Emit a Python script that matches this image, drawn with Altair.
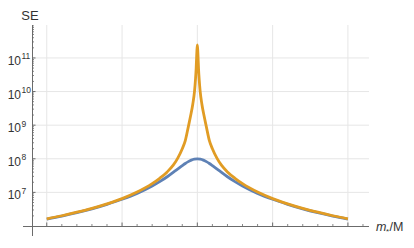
import altair as alt
import pandas as pd

W, H = 337, 201

# ---- data ----
orange_m = [0.06240, 0.06241, 0.06242, 0.06243, 0.06244, 0.06245, 0.06246, 0.06247,
            0.062475, 0.06248, 0.062484, 0.062487, 0.06249, 0.062492, 0.062494,
            0.0624955, 0.062497, 0.0624981, 0.0624988, 0.0624992, 0.0624995, 0.0624997,
            0.0625,
            0.0625003, 0.0625005, 0.0625008, 0.0625012, 0.0625019, 0.062503, 0.0625045,
            0.062506, 0.062508, 0.06251, 0.062513, 0.062516, 0.06252, 0.062525,
            0.06253, 0.06254, 0.06255, 0.06256, 0.06257, 0.06258, 0.06259, 0.06260]
orange_se = [1.641e6, 2.018e6, 2.570e6, 3.350e6, 4.571e6, 6.531e6, 1.023e7, 1.820e7,
             2.630e7, 4.074e7, 6.457e7, 1.047e8, 1.995e8, 3.467e8, 8.913e8,
             1.862e9, 4.266e9, 1.0e10, 2.399e10, 4.786e10, 1.0e11, 1.585e11,
             2.455e11,
             1.585e11, 1.0e11, 4.786e10, 2.399e10, 1.0e10, 4.266e9, 1.862e9,
             8.913e8, 3.467e8, 1.995e8, 1.047e8, 6.457e7, 4.074e7, 2.630e7,
             1.820e7, 1.023e7, 6.531e6, 4.571e6, 3.350e6, 2.570e6, 2.018e6, 1.641e6]

blue_m = [0.06240, 0.06241, 0.06242, 0.06243, 0.06244, 0.06245, 0.06246, 0.06247,
          0.062475, 0.06248, 0.062485, 0.062488, 0.06249, 0.062492, 0.062494,
          0.062496, 0.062498, 0.0625,
          0.062502, 0.062504, 0.062506, 0.062508, 0.06251, 0.062512, 0.062515,
          0.06252, 0.062525, 0.06253, 0.06254, 0.06255, 0.06256, 0.06257,
          0.06258, 0.06259, 0.06260]
blue_se = [1.603e6, 1.972e6, 2.483e6, 3.236e6, 4.416e6, 6.237e6, 9.333e6, 1.549e7,
           2.089e7, 2.917e7, 4.266e7, 5.370e7, 6.237e7, 7.244e7, 8.222e7,
           9.120e7, 9.772e7, 1.0e8,
           9.772e7, 9.120e7, 8.222e7, 7.244e7, 6.237e7, 5.370e7, 4.266e7,
           2.917e7, 2.089e7, 1.549e7, 9.333e6, 6.237e6, 4.416e6, 3.236e6,
           2.483e6, 1.972e6, 1.603e6]

x_label_values = [0.06245, 0.06250, 0.06255, 0.06260]
x_grid = [0.06240, 0.06245, 0.06250, 0.06255, 0.06260]
x_minor = [0.06241, 0.06242, 0.06243, 0.06244, 0.06246, 0.06247, 0.06248, 0.06249,
           0.06251, 0.06252, 0.06253, 0.06254, 0.06256, 0.06257, 0.06258, 0.06259,
           0.06261]
y_exponents = [7, 8, 9, 10, 11]
y_grid = [1e7, 1e8, 1e9, 1e10, 1e11]
y_minor = [k * 10.0 ** e for e in range(5, 12) for k in range(1, 10)
           if 1.05e6 < k * 10.0 ** e < 9.5e11 and k * 10.0 ** e not in y_grid]

BLUE = "#5E81B5"
ORANGE = "#E19C24"
GRID = "#e6e6e6"
AX = "#6b6b6b"
TXT = "#333333"
FONT = "Liberation Sans"

xs = alt.Scale(domain=[0.0623902, 0.062614], nice=False, zero=False)
ys = alt.Scale(type="log", domain=[1.0e6, 9.55e11], nice=False)

one = pd.DataFrame({"a": [0]})

grid_x = alt.Chart(pd.DataFrame({"v": x_grid})).mark_rule(color=GRID, strokeWidth=1).encode(
    x=alt.X("v:Q", scale=xs, axis=None), y=alt.value(0), y2=alt.value(H))
grid_y = alt.Chart(pd.DataFrame({"v": y_grid})).mark_rule(color=GRID, strokeWidth=1).encode(
    y=alt.Y("v:Q", scale=ys, axis=None), x=alt.value(0), x2=alt.value(W))

blue = alt.Chart(pd.DataFrame({"m": blue_m, "se": blue_se})).mark_line(
    color=BLUE, strokeWidth=2.8, interpolate="monotone", clip=True).encode(
    x=alt.X("m:Q", scale=xs, axis=alt.Axis(
        values=x_label_values, format=".5f", ticks=False, domain=False, grid=False,
        labelFontSize=12.5, labelFont=FONT, labelColor=TXT, labelPadding=1, title=None)),
    y=alt.Y("se:Q", scale=ys, axis=None))

orange = alt.Chart(pd.DataFrame({"m": orange_m, "se": orange_se})).mark_line(
    color=ORANGE, strokeWidth=2.8, interpolate="monotone", clip=True).encode(
    x=alt.X("m:Q", scale=xs, axis=None),
    y=alt.Y("se:Q", scale=ys, axis=None))

x_axis_line = alt.Chart(one).mark_rule(color=AX, strokeWidth=1).encode(
    x=alt.value(-9), x2=alt.value(W), y=alt.value(H + 0.5))
y_axis_line = alt.Chart(one).mark_rule(color=AX, strokeWidth=1).encode(
    x=alt.value(0.5), y=alt.value(0), y2=alt.value(H + 10))

x_major_t = alt.Chart(pd.DataFrame({"v": x_grid})).mark_rule(color=AX, strokeWidth=1).encode(
    x=alt.X("v:Q", scale=xs, axis=None), y=alt.value(H), y2=alt.value(H - 3.5))
x_minor_t = alt.Chart(pd.DataFrame({"v": x_minor})).mark_rule(color=AX, strokeWidth=0.8).encode(
    x=alt.X("v:Q", scale=xs, axis=None), y=alt.value(H), y2=alt.value(H - 2))
y_major_t = alt.Chart(pd.DataFrame({"v": y_grid})).mark_rule(color=AX, strokeWidth=1).encode(
    y=alt.Y("v:Q", scale=ys, axis=None), x=alt.value(0), x2=alt.value(3.5))
y_minor_t = alt.Chart(pd.DataFrame({"v": y_minor})).mark_rule(color=AX, strokeWidth=0.8).encode(
    y=alt.Y("v:Q", scale=ys, axis=None), x=alt.value(0), x2=alt.value(2))

ylab = pd.DataFrame({"v": [10.0 ** e for e in y_exponents], "e": [str(e) for e in y_exponents]})
ten = alt.Chart(ylab).mark_text(
    align="right", baseline="middle", fontSize=12, font=FONT, color=TXT, dy=3).encode(
    y=alt.Y("v:Q", scale=ys, axis=None), x=alt.value(-11), text=alt.value("10"))
expo = alt.Chart(ylab).mark_text(
    align="left", baseline="middle", fontSize=8.5, font=FONT, color=TXT, dy=-1.5).encode(
    y=alt.Y("v:Q", scale=ys, axis=None), x=alt.value(-10.5), text="e:N")

se_title = alt.Chart(one).mark_text(
    align="center", baseline="top", fontSize=13, font=FONT, color=TXT).encode(
    x=alt.value(-2), y=alt.value(-15), text=alt.value("SE"))
m_title = alt.Chart(one).mark_text(
    align="left", baseline="alphabetic", fontSize=12.5, font=FONT, color=TXT, fontStyle="italic").encode(
    x=alt.value(344), y=alt.value(H + 4.5), text=alt.value("m"))
star_title = alt.Chart(one).mark_text(
    align="left", baseline="alphabetic", fontSize=8, font=FONT, color=TXT).encode(
    x=alt.value(354), y=alt.value(H + 7.5), text=alt.value("*"))
slash_title = alt.Chart(one).mark_text(
    align="left", baseline="alphabetic", fontSize=12.5, font=FONT, color=TXT).encode(
    x=alt.value(357.5), y=alt.value(H + 4.5), text=alt.value("/M"))

chart = alt.layer(
    grid_x, grid_y, blue, orange, x_axis_line, y_axis_line,
    x_major_t, x_minor_t, y_major_t, y_minor_t,
    ten, expo, se_title, m_title, star_title, slash_title
).properties(
    width=W, height=H,
    padding={"left": 24, "top": 17, "right": 37, "bottom": 14},
    autosize=alt.AutoSizeParams(type="none"),
).configure_view(stroke=None)

chart.save("out.html", embed_options={"renderer": "svg", "actions": False})
